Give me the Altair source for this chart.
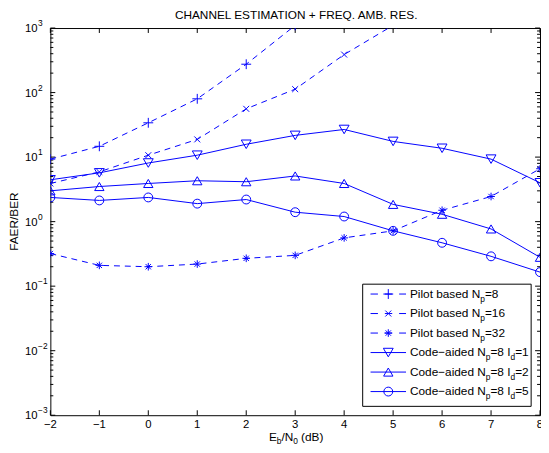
import altair as alt
import pandas as pd

# ---------------- data ----------------
snr = [-2, -1, 0, 1, 2, 3, 4, 5, 6, 7, 8]
pilot8_snr = [-2, -1, 0, 1, 2, 3]
pilot8 = [9.3, 14.7, 34, 80, 275, 1100]
pilot16_snr = [-2, -1, 0, 1, 2, 3, 4, 5]
pilot16 = [3.9, 5.9, 10.7, 18.8, 56, 113, 388, 1100]
pilot32 = [0.32, 0.21, 0.20, 0.22, 0.27, 0.30, 0.56, 0.72, 1.5, 2.45, 6.6]
code1 = [4.45, 5.7, 8.1, 10.7, 15.8, 21.7, 26.8, 17.5, 13.7, 9.3, 4.0]
code2 = [3.0, 3.5, 3.9, 4.3, 4.15, 5.1, 3.9, 1.85, 1.3, 0.77, 0.28]
code5 = [2.37, 2.13, 2.37, 1.9, 2.2, 1.4, 1.2, 0.72, 0.47, 0.29, 0.165]

x_ticks = [-2, -1, 0, 1, 2, 3, 4, 5, 6, 7, 8]
y_exps = [-3, -2, -1, 0, 1, 2, 3]
minor_mult = [2, 3, 4, 5, 6, 7, 8, 9]

title_text = "CHANNEL ESTIMATION + FREQ. AMB. RES."
y_title = "FAER/BER"

# ---------------- style ----------------
BLUE = "#0000ff"
FONT = "Liberation Sans, Arial, Helvetica, sans-serif"
W, H = 497, 393

PLUS = "M-1,0L1,0M0,-1L0,1"
XMARK = "M-1,-1L1,1M-1,1L1,-1"
STAR = "M-1,0L1,0M0,-1L0,1M-0.7,-0.7L0.7,0.7M-0.7,0.7L0.7,-0.7"

xscale = alt.Scale(domain=[-2, 8], nice=False, zero=False)
yscale = alt.Scale(type="log", domain=[0.001, 1000], nice=False)
X = alt.X("snr:Q", scale=xscale, axis=None)
Y = alt.Y("v:Q", scale=yscale, axis=None)

layers = []

# ---------------- tick marks (inward, MATLAB style) ----------------
xt = pd.DataFrame({"snr": x_ticks})
layers.append(alt.Chart(xt).mark_rule(color="black", strokeWidth=1).encode(
    x=X, y=alt.value(H), y2=alt.value(H - 5)))
layers.append(alt.Chart(xt).mark_rule(color="black", strokeWidth=1).encode(
    x=X, y=alt.value(0), y2=alt.value(5)))

ymaj = pd.DataFrame({"v": [10.0 ** e for e in y_exps]})
layers.append(alt.Chart(ymaj).mark_rule(color="black", strokeWidth=1).encode(
    y=Y, x=alt.value(0), x2=alt.value(5)))
layers.append(alt.Chart(ymaj).mark_rule(color="black", strokeWidth=1).encode(
    y=Y, x=alt.value(W), x2=alt.value(W - 5)))

ymin = pd.DataFrame({"v": [m * 10.0 ** e for e in y_exps[:-1] for m in minor_mult]})
layers.append(alt.Chart(ymin).mark_rule(color="black", strokeWidth=1).encode(
    y=Y, x=alt.value(0), x2=alt.value(3)))
layers.append(alt.Chart(ymin).mark_rule(color="black", strokeWidth=1).encode(
    y=Y, x=alt.value(W), x2=alt.value(W - 3)))

# ---------------- tick labels ----------------
xl = pd.DataFrame({"snr": x_ticks, "lab": [str(t).replace("-", "\u2212") for t in x_ticks]})
layers.append(alt.Chart(xl).mark_text(font=FONT, fontSize=11.5, align="center",
                                      baseline="middle", color="black").encode(
    x=X, y=alt.value(H + 10), text="lab:N"))

yl = pd.DataFrame({"v": [10.0 ** e for e in y_exps],
                   "base": ["10"] * len(y_exps),
                   "ex": [str(e).replace("-", "\u2212") for e in y_exps]})
layers.append(alt.Chart(yl).mark_text(font=FONT, fontSize=11.5, align="right",
                                      baseline="middle", dy=1, color="black").encode(
    y=Y, x=alt.value(-13), text="base:N"))
layers.append(alt.Chart(yl).mark_text(font=FONT, fontSize=8.5, align="left",
                                      baseline="middle", dy=-5, color="black").encode(
    y=Y, x=alt.value(-12.5), text="ex:N"))

# ---------------- series ----------------
def series(xs, ys, dashed, shape, size):
    df = pd.DataFrame({"snr": xs, "v": ys})
    lk = dict(color=BLUE, strokeWidth=1, clip=True)
    if dashed:
        lk["strokeDash"] = [6, 5]
    line = alt.Chart(df).mark_line(**lk).encode(x=X, y=Y)
    pts = alt.Chart(df).mark_point(shape=shape, size=size, color=BLUE, filled=False,
                                   strokeWidth=1, opacity=1, clip=True).encode(x=X, y=Y)
    return [line, pts]

layers += series(pilot8_snr, pilot8, True, PLUS, 100)
layers += series(pilot16_snr, pilot16, True, XMARK, 36)
layers += series(snr, pilot32, True, STAR, 60)
layers += series(snr, code1, False, "triangle-down", 100)
layers += series(snr, code2, False, "triangle-up", 90)
layers += series(snr, code5, False, "circle", 81)

# ---------------- legend ----------------
row_y = [270 + 19.8 * i for i in range(6)]
box = pd.DataFrame({"a": [0]})
layers.append(alt.Chart(box).mark_rect(fill="white", stroke="black", strokeWidth=1).encode(
    x=alt.value(317), x2=alt.value(488), y=alt.value(260), y2=alt.value(384)))

leg_shapes = [PLUS, XMARK, STAR, "triangle-down", "triangle-up", "circle"]
leg_sizes = [100, 36, 60, 100, 90, 81]
leg_dashed = [True, True, True, False, False, False]
for i in range(6):
    d = pd.DataFrame({"ry": [row_y[i]]})
    rk = dict(color=BLUE, strokeWidth=1)
    if leg_dashed[i]:
        rk["strokeDash"] = [7.5, 7]
    layers.append(alt.Chart(d).mark_rule(**rk).encode(
        x=alt.value(325), x2=alt.value(361), y=alt.Y("ry:Q", scale=None)))
    layers.append(alt.Chart(d).mark_point(shape=leg_shapes[i], size=leg_sizes[i], color=BLUE,
                                          filled=False, strokeWidth=1, opacity=1).encode(
        x=alt.value(343), y=alt.Y("ry:Q", scale=None)))

leg_main = ["Pilot based N", "Pilot based N", "Pilot based N",
            "Code\u2212aided N", "Code\u2212aided N", "Code\u2212aided N"]
leg_np = ["=8", "=16", "=32", "=8 I", "=8 I", "=8 I"]
leg_id = ["", "", "", "=1", "=2", "=5"]

pieces = []
for i in range(6):
    b = row_y[i] + 3.8
    x0 = 365
    if i < 3:
        pieces.append((leg_main[i], x0, b, 12))
        pieces.append(("p", x0 + 71.4, b + 4, 8.5))
        pieces.append((leg_np[i], x0 + 76.1, b, 12))
    else:
        pieces.append((leg_main[i], x0, b, 12))
        pieces.append(("p", x0 + 77.0, b + 4, 8.5))
        pieces.append((leg_np[i], x0 + 81.7, b, 12))
        pieces.append(("d", x0 + 102.1, b + 4, 8.5))
        pieces.append((leg_id[i], x0 + 106.8, b, 12))

# x-axis title pieces: E_b/N_0 (dB)
xb = H + 26
pieces += [("E", 221.8, xb, 12), ("b", 229.8, xb + 3.5, 8.5), ("/N", 234.5, xb, 12),
           ("0", 246.5, xb + 3.5, 8.5), ("(dB)", 254.5, xb, 12)]

pdf = pd.DataFrame(pieces, columns=["t", "px", "py", "fs"])
layers.append(alt.Chart(pdf).mark_text(font=FONT, align="left", baseline="alphabetic",
                                       color="black").encode(
    x=alt.X("px:Q", scale=None), y=alt.Y("py:Q", scale=None), text="t:N",
    size=alt.Size("fs:Q", scale=None)))

# title and y title
tdf = pd.DataFrame({"t": [title_text]})
layers.append(alt.Chart(tdf).mark_text(font=FONT, fontSize=12, align="center",
                                       baseline="alphabetic", color="black").encode(
    x=alt.value(W / 2 + 1), y=alt.value(-9), text="t:N"))
ydf = pd.DataFrame({"t": [y_title]})
layers.append(alt.Chart(ydf).mark_text(font=FONT, fontSize=12, align="center",
                                       baseline="middle", angle=270, color="black").encode(
    x=alt.value(-36.5), y=alt.value(H / 2), text="t:N"))

chart = alt.layer(*layers).properties(
    width=W, height=H, autosize="none",
    padding={"left": 43, "top": 17, "right": 1, "bottom": 34},
    background="white",
).configure_view(stroke="black", strokeWidth=1)

chart.save("out.html", embed_options={"renderer": "svg", "actions": False})
